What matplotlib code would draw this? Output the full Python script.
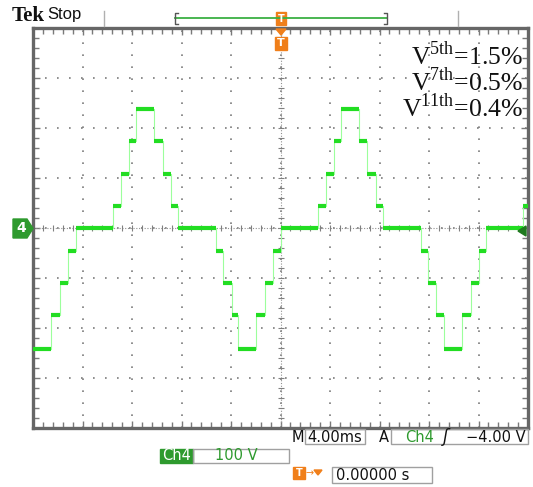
import numpy as np
import matplotlib.pyplot as plt
from matplotlib.patches import Rectangle, Polygon
from matplotlib.lines import Line2D
from matplotlib.ticker import MultipleLocator

plt.rcParams['mathtext.fontset'] = 'custom'
plt.rcParams['mathtext.rm'] = 'Liberation Serif'

# Ch4 trace: edge times (ms) and level held after each edge (V)
edge_ms = [-20.0, -18.55, -17.82, -17.17, -16.53, -13.54, -12.89, -12.25, -11.68,
           -10.22, -9.49, -8.85, -8.28, -5.21, -4.65, -3.92, -3.43, -1.98, -1.25,
           -0.61, 0.04, 3.03, 3.68, 4.32, 4.89, 6.34, 6.99, 7.72, 8.28, 11.35,
           11.92, 12.57, 13.21, 14.67, 15.39, 16.04, 16.61, 19.60, 20.0]
level_v = [-241, -174, -109, -45, 0, 44, 109, 174, 239, 174, 109, 44, 0,
           -45, -109, -174, -241, -174, -109, -45, 0, 44, 109, 174, 239, 174, 109, 44, 0,
           -45, -109, -174, -241, -174, -109, -45, 0, 44, 44]

harmonics = ['5th', '7th', '11th']
thd = ['1.5%', '0.5%', '0.4%']

W, H = 533, 487
fig = plt.figure(figsize=(W / 100, H / 100), dpi=100)
fig.patch.set_facecolor('white')


def fx(x):
    return x / W


def fy(y):
    return 1 - y / H


ax = fig.add_axes([fx(33), fy(428), fx(528) - fx(33), fy(28) - fy(428)])
ax.set_xlim(-20, 20)
ax.set_ylim(-400, 400)

# graticule
ax.xaxis.set_major_locator(MultipleLocator(4))
ax.xaxis.set_minor_locator(MultipleLocator(0.8))
ax.yaxis.set_major_locator(MultipleLocator(100))
ax.yaxis.set_minor_locator(MultipleLocator(20))
ax.tick_params(which='both', direction='in', top=True, right=True, color='#7a7a7a',
               labelbottom=False, labelleft=False, width=1)
ax.tick_params(which='major', length=5)
ax.tick_params(which='minor', length=4)
ax.grid(which='major', color='#7c7c7c', lw=1.2, ls=(0, (1, 6.2)))
for s in ax.spines.values():
    s.set_color('#666666')
    s.set_linewidth(2.4)

ax.axhline(0, color='#909090', lw=0.8, ls=(0, (1, 1.5)))
ax.axvline(0, color='#909090', lw=0.8, ls=(0, (1, 1.5)))
ax.plot(np.arange(-20, 20.01, 0.8), np.zeros(51), ls='none', marker='|', ms=5,
        color='#808080', mew=0.8)
ax.plot(np.zeros(41), np.arange(-400, 400.1, 20), ls='none', marker='_', ms=5,
        color='#808080', mew=0.8)

# trace
ax.step(edge_ms, level_v, where='post', color='#9cff9c', lw=0.8, zorder=3)
ax.hlines(level_v[:-1], edge_ms[:-1], edge_ms[1:], color='#22dd22', lw=3.0, zorder=4)

# harmonic annotation
for i, (h, v) in enumerate(zip(harmonics, thd)):
    fig.text(fx(523), fy(65 + i * 26), r'V$^{\rm ' + h + '}$=' + v,
             family='Liberation Serif', fontsize=18.5, ha='right', va='baseline',
             color='#111111')

# header
fig.text(fx(12), fy(16), 'Tek', family='Liberation Serif', fontweight='bold',
         fontsize=15, va='center', color='#111111')
fig.text(fx(47), fy(15), 'Stop', family='Liberation Sans', fontsize=12,
         va='center', color='#111111')
for xs in (104, 458):
    fig.add_artist(Line2D([fx(xs), fx(xs)], [fy(11), fy(26)], color='#b0b0b0', lw=1))
fig.add_artist(Line2D([fx(175), fx(387)], [fy(18), fy(18)], color='#3cb043', lw=1.3))
for xs, d in ((175, 1), (387, -1)):
    fig.add_artist(Line2D([fx(xs + 3 * d), fx(xs), fx(xs), fx(xs + 3 * d)],
                          [fy(13), fy(13), fy(24), fy(24)], color='#555555', lw=1))
orange = '#f07f1a'
fig.add_artist(Rectangle((fx(276), fy(25)), fx(10), fy(12) - fy(25), color=orange))
fig.text(fx(281), fy(18.5), 'T', color='white', fontsize=7, fontweight='bold',
         ha='center', va='center', family='DejaVu Sans')
fig.add_artist(Polygon([[fx(276), fy(29)], [fx(286), fy(29)], [fx(281), fy(35)]],
                       closed=True, color=orange))
fig.add_artist(Rectangle((fx(275), fy(50)), fx(12), fy(37) - fy(50), color=orange))
fig.text(fx(281), fy(43.5), 'T', color='white', fontsize=8, fontweight='bold',
         ha='center', va='center', family='DejaVu Sans')

# channel marker and trigger level marker
green_dark = '#2e9a2e'
fig.add_artist(Polygon([[fx(13), fy(219)], [fx(27), fy(219)], [fx(33), fy(228.5)],
                        [fx(27), fy(238)], [fx(13), fy(238)]], closed=True,
                       color=green_dark))
fig.text(fx(21), fy(228.5), '4', color='white', fontsize=10, fontweight='bold',
         ha='center', va='center', family='DejaVu Sans')
fig.add_artist(Polygon([[fx(518), fy(231)], [fx(526), fy(226)], [fx(526), fy(236)]],
                       closed=True, color='#1f7a1f'))

# bottom readout
txt = dict(family='DejaVu Sans', fontsize=10.5, va='center')
box = dict(fill=False, ec='#a0a0a0', lw=1)
fig.text(fx(292), fy(437), 'M', color='#111111', **txt)
fig.add_artist(Rectangle((fx(305), fy(444)), fx(60), fy(429) - fy(444), **box))
fig.text(fx(307), fy(437), '4.00ms', color='#111111', **txt)
fig.text(fx(379), fy(437), 'A', color='#111111', **txt)
fig.add_artist(Rectangle((fx(391), fy(444)), fx(137), fy(429) - fy(444), **box))
fig.text(fx(405), fy(437), 'Ch4', color='#2e9a2e', **txt)
fig.text(fx(443), fy(437), 'ʃ', color='#111111', family='DejaVu Sans',
         fontsize=12, va='center', style='italic')
fig.text(fx(526), fy(437), '\u22124.00 V', color='#111111', ha='right', **txt)

fig.add_artist(Rectangle((fx(160), fy(463)), fx(33), fy(449) - fy(463), color=green_dark))
fig.text(fx(176.5), fy(456), 'Ch4', color='white', ha='center', **txt)
fig.add_artist(Rectangle((fx(193), fy(463)), fx(96), fy(449) - fy(463), **box))
fig.text(fx(215), fy(456), '100 V', color='#2e9a2e', **txt)

fig.add_artist(Rectangle((fx(293), fy(479)), fx(12), fy(467) - fy(479), color=orange))
fig.text(fx(299), fy(473), 'T', color='white', fontsize=7, fontweight='bold',
         ha='center', va='center', family='DejaVu Sans')
fig.text(fx(305), fy(473), '\u2192', color=orange, family='DejaVu Sans',
         fontsize=7, va='center')
fig.add_artist(Polygon([[fx(314), fy(470)], [fx(322), fy(470)], [fx(318), fy(475)]],
                       closed=True, color=orange))
fig.add_artist(Rectangle((fx(332), fy(483)), fx(100), fy(467) - fy(483), **box))
fig.text(fx(336), fy(475), '0.00000 s', color='#111111', **txt)

fig.savefig('out.png', dpi=100, facecolor='white')
